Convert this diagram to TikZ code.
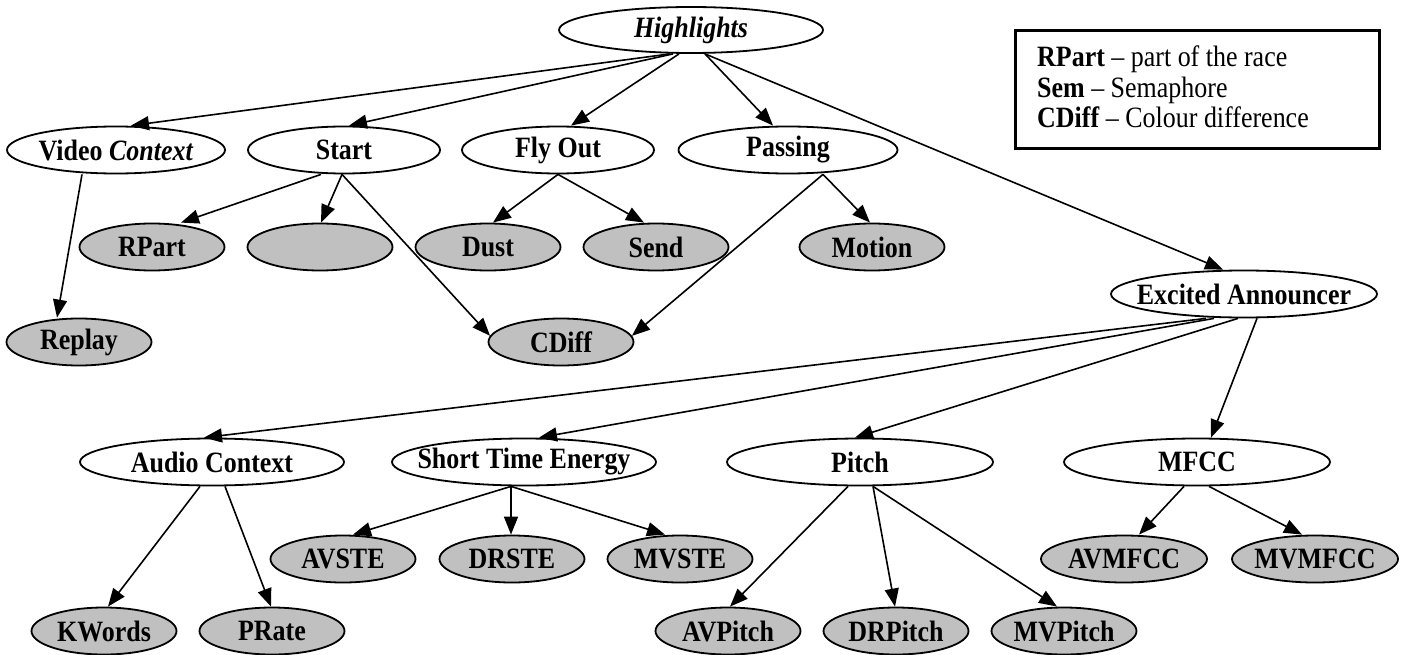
\documentclass[tikz,border=0pt]{standalone}
\usepackage{fontspec}
\setmainfont{Liberation Serif}
\newfontfamily\narrowface[FakeStretch=0.88, Ligatures=TeX]{Liberation Serif}
\usetikzlibrary{shapes.geometric,arrows.meta}
\definecolor{featgray}{RGB}{192,192,192}
\newcommand{\nodefont}{\narrowface\fontsize{29.5}{34}\selectfont\bfseries}
\newcommand{\legfont}{\narrowface\fontsize{29.5}{34}\selectfont}
\tikzset{
  topic/.style={ellipse, draw, line width=1.8pt, fill=white, inner xsep=-30pt, inner ysep=0pt, minimum height=47pt, font=\nodefont},
  feat/.style={topic, fill=featgray, minimum width=145pt},
  link/.style={-{Triangle[length=18pt,width=14pt]}, line width=1.6pt},
}
\begin{document}
\begin{tikzpicture}[x=1pt, y=-1pt]
  \useasboundingbox (0,0) rectangle (1412,655);
  % root and video branch
  \node[topic, minimum width=264pt, minimum height=46pt] (hl) at (691,30) {\textit{Highlights}};
  \node[topic, minimum width=218pt] (vctx) at (116,150) {Video \textit{Context}};
  \node[topic, minimum width=192pt] (start) at (344,150) {Start};
  \node[topic, minimum width=192pt] (fly) at (558,150) {Fly Out};
  \node[topic, minimum width=219pt] (pass) at (788,150) {Passing};
  \node[feat] (rpart) at (152,247) {RPart};
  \node[feat] (blank) at (320,247) {};
  \node[feat] (dust) at (488,247) {Dust};
  \node[feat] (send) at (656,247) {Send};
  \node[feat] (motion) at (872,247) {Motion};
  \node[feat] (replay) at (79,342) {Replay};
  \node[feat] (cdiff) at (561,342) {CDiff};
  % audio branch
  \node[topic, minimum width=266pt] (exc) at (1244,294) {Excited Announcer};
  \node[topic, minimum width=264pt] (actx) at (212,462) {Audio Context};
  \node[topic, minimum width=264pt] (ste) at (524,462) {Short Time Energy};
  \node[topic, minimum width=266pt] (pitch) at (860,462) {Pitch};
  \node[topic, minimum width=266pt] (mfcc) at (1197,462) {MFCC};
  \node[feat] (avste) at (343,559) {AVSTE};
  \node[feat] (drste) at (512,559) {DRSTE};
  \node[feat] (mvste) at (680,559) {MVSTE};
  \node[feat, minimum width=166pt] (avmfcc) at (1124,559) {AVMFCC};
  \node[feat, minimum width=166pt] (mvmfcc) at (1315,559) {MVMFCC};
  \node[feat] (kwords) at (104,631) {KWords};
  \node[feat] (prate) at (272,631) {PRate};
  \node[feat] (avpitch) at (728,631) {AVPitch};
  \node[feat] (drpitch) at (896,631) {DRPitch};
  \node[feat] (mvpitch) at (1064,631) {MVPitch};
  % edges from the root
  \draw[link] ([xshift=-21pt]hl.south) -- ([xshift=15pt]vctx.north);
  \draw[link] ([xshift=-18pt]hl.south) -- ([xshift=5pt]start.north);
  \draw[link] ([xshift=-12pt]hl.south) -- ([xshift=13pt]fly.north);
  \draw[link] ([xshift=14pt]hl.south) -- ([xshift=-15pt]pass.north);
  \draw[link] ([xshift=14pt]hl.south) -- ([xshift=-21pt]exc.north);
  % video features
  \draw[link] ([xshift=-34pt]vctx.south) -- ([xshift=-22pt]replay.north);
  \draw[link] ([xshift=-23pt]start.south) -- ([xshift=29pt]rpart.north);
  \draw[link] ([xshift=-2pt]start.south) -- ([xshift=1pt]blank.north);
  \draw[link] ([xshift=-2pt]start.south) -- (cdiff.175);
  \draw[link] (fly.south) -- ([xshift=5pt]dust.north);
  \draw[link] (fly.south) -- ([xshift=-12pt]send.north);
  \draw[link] ([xshift=35pt]pass.south) -- ([xshift=-2pt]motion.north);
  \draw[link] ([xshift=35pt]pass.south) -- (cdiff.5);
  % audio features
  \draw[link] ([xshift=-38pt]exc.south) -- ([xshift=-8pt]actx.north);
  \draw[link] ([xshift=-30pt]exc.south) -- ([xshift=15pt]ste.north);
  \draw[link] ([xshift=-6pt]exc.south) -- ([xshift=-5pt]pitch.north);
  \draw[link] ([xshift=13pt]exc.south) -- ([xshift=14pt]mfcc.north);
  \draw[link] ([xshift=-12pt]actx.south) -- ([xshift=4pt]kwords.north);
  \draw[link] ([xshift=13pt]actx.south) -- ([xshift=-1pt]prate.north);
  \draw[link] ([xshift=-13pt]ste.south) -- ([xshift=10pt]avste.north);
  \draw[link] ([xshift=-13pt]ste.south) -- ([xshift=-1pt]drste.north);
  \draw[link] ([xshift=-13pt]ste.south) -- ([xshift=-15pt]mvste.north);
  \draw[link] ([xshift=-12pt]pitch.south) -- ([xshift=2pt]avpitch.north);
  \draw[link] ([xshift=13pt]pitch.south) -- ([xshift=-1pt]drpitch.north);
  \draw[link] ([xshift=13pt]pitch.south) -- ([xshift=-7pt]mvpitch.north);
  \draw[link] ([xshift=-13pt]mfcc.south) -- ([xshift=15pt]avmfcc.north);
  \draw[link] ([xshift=12pt]mfcc.south) -- ([xshift=-13pt]mvmfcc.north);
  % legend
  \draw[line width=3pt] (1015,31) rectangle (1379,149);
  \node[anchor=base west, font=\legfont, inner sep=0pt] (leg1) at (1037,67) {\textbf{RPart} -- part of the race};
  \node[anchor=base west, font=\legfont, inner sep=0pt] (leg2) at (1037,98) {\textbf{Sem} -- Semaphore};
  \node[anchor=base west, font=\legfont, inner sep=0pt] (leg3) at (1037,128) {\textbf{CDiff} -- Colour difference};
\end{tikzpicture}
\end{document}
